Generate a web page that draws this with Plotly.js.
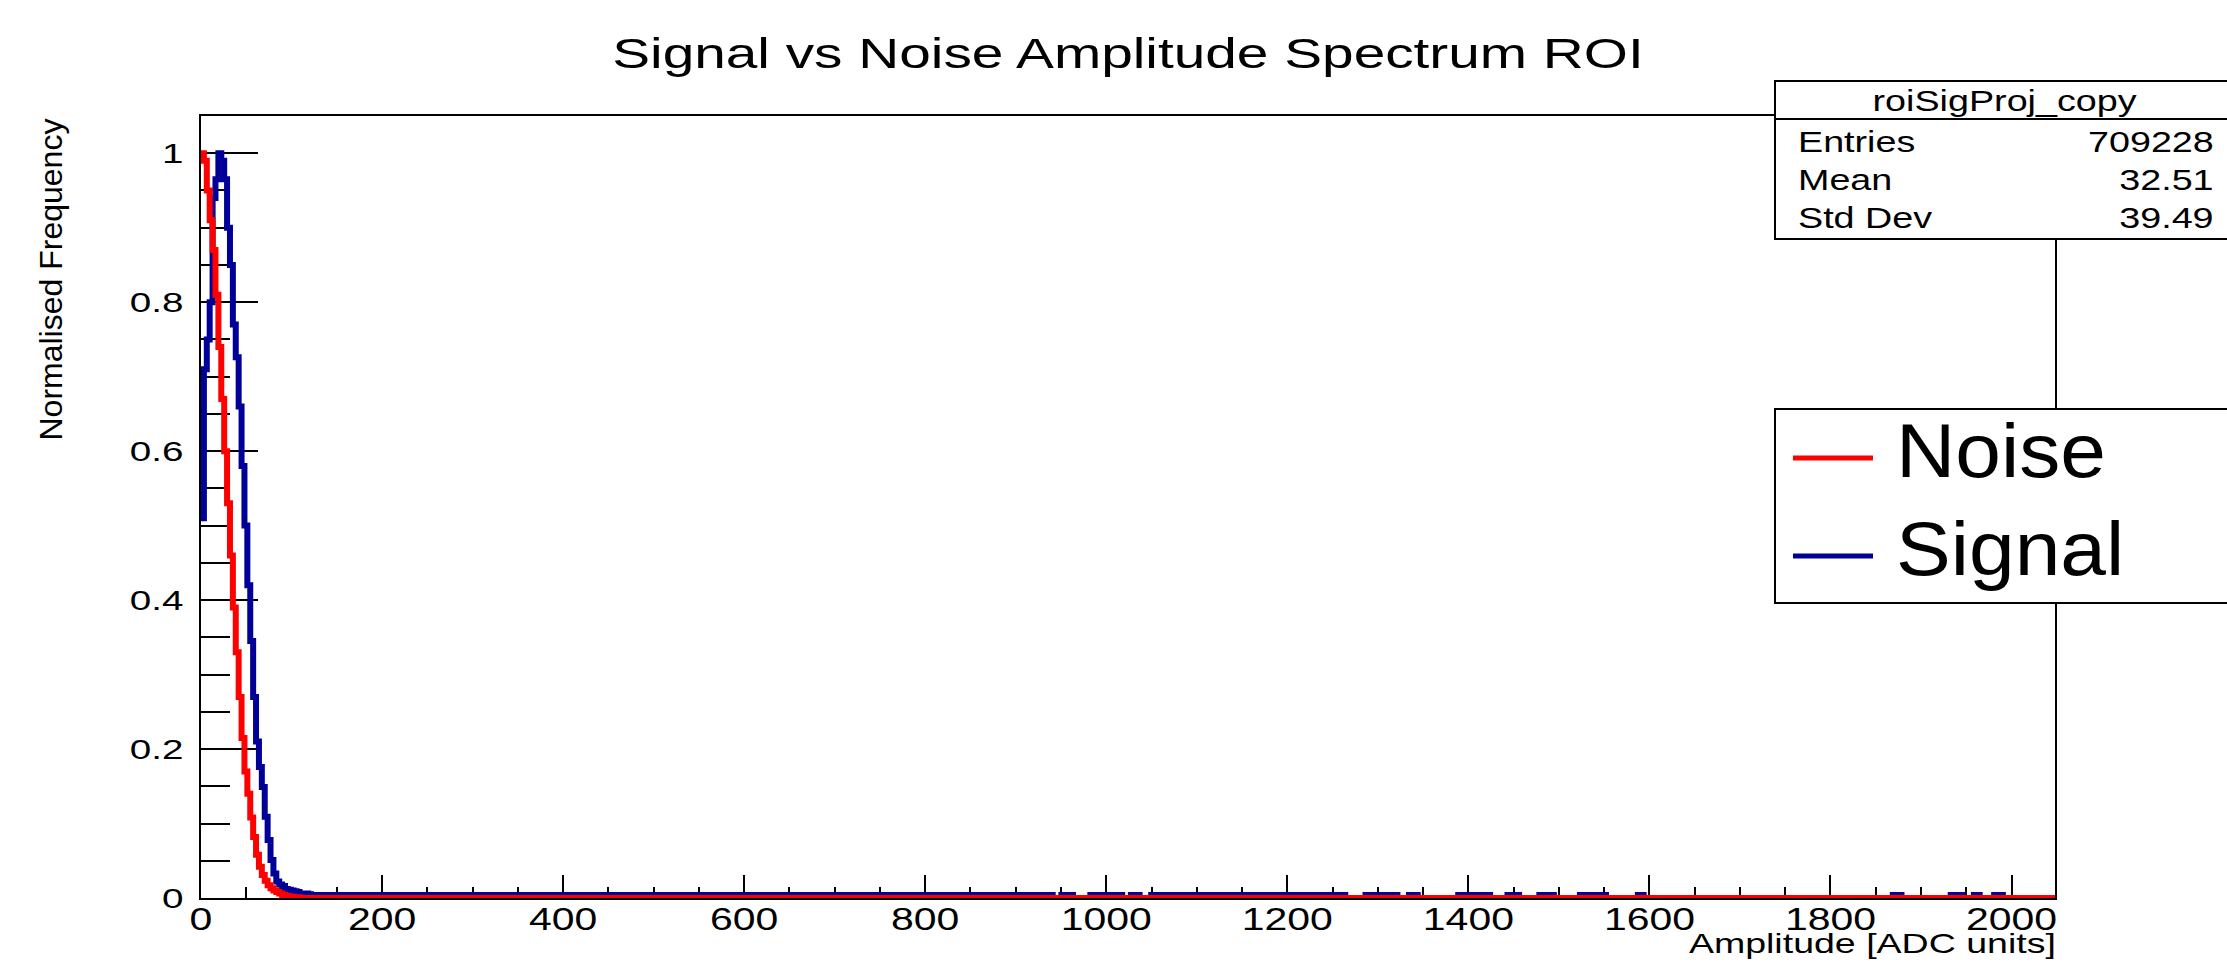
<!DOCTYPE html>
<html>
<head>
<meta charset="utf-8">
<script src="https://cdn.plot.ly/plotly-3.0.1.min.js"></script>
<style>
  html, body { margin: 0; padding: 0; background: #fff; }
  #chart { width: 2227px; height: 964px; }
</style>
</head>
<body>
<div id="chart"></div>
<script>
// ---- Histogram definition: 640 bins over 0–2048 ADC ----
const binWidth = 3.2;
const xMax = 2048;

const seriesNames = ['Noise', 'Signal'];
const seriesColors = ['#ff0000', '#000099'];

// Normalised bin contents, starting at the first bin
const noiseHead = [1.0, 0.99, 0.95, 0.91, 0.87, 0.81, 0.74, 0.67, 0.60, 0.53,
  0.46, 0.39, 0.33, 0.27, 0.215, 0.17, 0.14, 0.108, 0.082, 0.058,
  0.042, 0.031, 0.023, 0.017, 0.013, 0.010, 0.008, 0.006, 0.004, 0.003,
  0.002, 0.0015, 0.001, 0.001, 0.0005];

const signalHead = [0.51, 0.71, 0.75, 0.80, 0.94, 0.965, 1.0, 0.99, 0.965, 0.90,
  0.85, 0.77, 0.726, 0.66, 0.58, 0.50, 0.42, 0.345, 0.27, 0.21,
  0.176, 0.149, 0.109, 0.078, 0.051, 0.033, 0.022, 0.018, 0.016, 0.012,
  0.011, 0.010, 0.009, 0.008, 0.006, 0.006, 0.006, 0.005];

// Sparse high-amplitude tail of the signal: occupied ADC ranges and their level
const signalTailFrom = [120, 952, 984, 994, 1026, 1050, 1101, 1137, 1201, 1288, 1336,
  1390, 1408, 1444, 1480, 1523, 1587, 1870, 1933, 1957, 1981];
const signalTailTo = [941, 962, 991, 1018, 1038, 1093, 1129, 1193, 1265, 1320, 1344,
  1400, 1424, 1456, 1495, 1551, 1595, 1878, 1945, 1965, 1989];
const signalTailLevel = 0.004;

// Statistics box
const statsTitle = 'roiSigProj_copy';
const statsLabels = ['Entries', 'Mean', 'Std Dev'];
const statsValues = ['709228', '32.51', '39.49'];

// ---- Build full bin arrays ----
const nBins = Math.round(xMax / binWidth);

function fullBins(head, tailFrom, tailTo, tailLevel) {
  const out = [];
  for (let i = 0; i < nBins; i++) {
    if (i < head.length) { out.push(head[i]); continue; }
    let v = 0;
    if (tailFrom) {
      const c = (i + 0.5) * binWidth;
      for (let k = 0; k < tailFrom.length; k++) {
        if (c >= tailFrom[k] && c <= tailTo[k]) { v = tailLevel; break; }
      }
    }
    out.push(v);
  }
  return out;
}

const noiseBins = fullBins(noiseHead);
const signalBins = fullBins(signalHead, signalTailFrom, signalTailTo, signalTailLevel);

function histTrace(values, name, color) {
  const x = [], y = [];
  for (let i = 0; i < values.length; i++) { x.push(i * binWidth); y.push(values[i]); }
  x.push(xMax); y.push(values[values.length - 1]);
  return {
    type: 'scatter', mode: 'lines', name: name, x: x, y: y,
    line: { shape: 'hv', color: color, width: 6 },
    hoverinfo: 'x+y+name', showlegend: false
  };
}

// Signal is drawn first so the noise histogram sits on top of it
const traces = [
  histTrace(signalBins, seriesNames[1], seriesColors[1]),
  histTrace(noiseBins, seriesNames[0], seriesColors[0])
];

// ---- Frame geometry (pixels) ----
const FW = 2227, FH = 964;
const L = 201, R = 2055, T = 116, B = 898;
const W = R - L, H = B - T;
const px = v => (v - L) / W;
const py = v => (B - v) / H;

const FONT = 'Liberation Sans, Arial, Helvetica, sans-serif';

const shapes = [];
const annotations = [];
const annStretch = [];

function addText(opts, stretch) {
  annotations.push(Object.assign({
    xref: 'paper', yref: 'paper', showarrow: false,
    font: { family: FONT, color: '#000', size: 28 }, borderpad: 0
  }, opts));
  annStretch.push(stretch || 1);
}

// Statistics box
shapes.push({ type: 'rect', xref: 'paper', yref: 'paper', layer: 'above',
  x0: px(1775), x1: px(2240), y0: py(81), y1: py(239),
  fillcolor: '#fff', line: { color: '#000', width: 2 } });
shapes.push({ type: 'line', xref: 'paper', yref: 'paper', layer: 'above',
  x0: px(1775), x1: px(2240), y0: py(119), y1: py(119),
  line: { color: '#000', width: 2 } });
addText({ text: statsTitle, x: px(2005), y: py(101), xanchor: 'center', yanchor: 'middle',
  font: { family: FONT, color: '#000', size: 29 } }, 1.3);
const rowY = [142, 180, 218];
statsLabels.forEach((lab, i) => {
  addText({ text: lab, x: px(1797), y: py(rowY[i]), xanchor: 'left', align: 'left', yanchor: 'middle',
    font: { family: FONT, color: '#000', size: 29 } }, 1.3);
  addText({ text: statsValues[i], x: px(2215), y: py(rowY[i]), xanchor: 'right', align: 'right', yanchor: 'middle',
    font: { family: FONT, color: '#000', size: 29 } }, 1.3);
});

// Legend box
shapes.push({ type: 'rect', xref: 'paper', yref: 'paper', layer: 'above',
  x0: px(1775), x1: px(2240), y0: py(409), y1: py(603),
  fillcolor: '#fff', line: { color: '#000', width: 2 } });
const legendRowY = [458, 556];
const legendTextY = [450.5, 548];
seriesNames.forEach((nm, i) => {
  shapes.push({ type: 'line', xref: 'paper', yref: 'paper', layer: 'above',
    x0: px(1793), x1: px(1873), y0: py(legendRowY[i]), y1: py(legendRowY[i]),
    line: { color: seriesColors[i], width: 5 } });
  addText({ text: nm, x: px(1895), y: py(legendTextY[i]), xanchor: 'left', align: 'left', yanchor: 'middle',
    font: { family: FONT, color: '#000', size: 76 } }, 1.08);
});

// Axis titles
addText({ text: 'Normalised Frequency', x: px(50), y: py(279.5), xanchor: 'center', yanchor: 'middle',
  textangle: -90, font: { family: FONT, color: '#000', size: 32 } }, 1.0);
addText({ text: 'Amplitude [ADC units]', x: px(2057), y: py(943), xanchor: 'right', align: 'right', yanchor: 'middle',
  font: { family: FONT, color: '#000', size: 28 } }, 1.34);

const layout = {
  width: FW, height: FH,
  margin: { l: L, r: FW - R, t: T, b: FH - B, pad: 0 },
  paper_bgcolor: '#fff', plot_bgcolor: '#fff',
  font: { family: FONT, color: '#000' },
  showlegend: false,
  title: {
    text: 'Signal vs Noise Amplitude Spectrum ROI',
    font: { family: FONT, size: 43, color: '#000' },
    xref: 'paper', x: 0.5, xanchor: 'center',
    yref: 'container', y: 1 - 53 / FH, yanchor: 'middle'
  },
  xaxis: {
    range: [0, xMax], tick0: 0, dtick: 200,
    ticks: 'inside', ticklen: 23, tickwidth: 2, tickcolor: '#000',
    showline: true, linewidth: 2, linecolor: '#000', mirror: true, layer: 'below traces',
    showgrid: false, zeroline: false, ticklabelstandoff: -8,
    tickfont: { family: FONT, size: 32, color: '#000' },
    minor: { dtick: 50, tick0: 0, ticks: 'inside', ticklen: 11.5, tickwidth: 2, tickcolor: '#000', showgrid: false }
  },
  yaxis: {
    range: [0, 1.05], tick0: 0, dtick: 0.2,
    ticks: 'inside', ticklen: 57, tickwidth: 2, tickcolor: '#000',
    showline: true, linewidth: 2, linecolor: '#000', mirror: true, layer: 'below traces',
    showgrid: false, zeroline: false, ticklabelstandoff: 10,
    tickfont: { family: FONT, size: 28, color: '#000' },
    minor: { dtick: 0.05, tick0: 0, ticks: 'inside', ticklen: 29, tickwidth: 2, tickcolor: '#000', showgrid: false }
  },
  shapes: shapes,
  annotations: annotations
};

// Widen glyphs horizontally to the wide Helvetica rendering of the canvas
function widen(el, k) {
  if (!el || k === 1) return;
  const w = el.getComputedTextLength();
  if (!w) return;
  el.setAttribute('textLength', (w * k).toFixed(1));
  el.setAttribute('lengthAdjust', 'spacingAndGlyphs');
}

Plotly.newPlot('chart', traces, layout, { displayModeBar: false, staticPlot: true }).then(gd => {
  // let the histogram lines keep their full thickness along the frame edges
  gd.querySelectorAll('.cartesianlayer .plot').forEach(p => p.removeAttribute('clip-path'));
  widen(gd.querySelector('.gtitle'), 1.32);
  gd.querySelectorAll('.xtick text').forEach(t => widen(t, 1.28));
  gd.querySelectorAll('.ytick text').forEach(t => widen(t, 1.38));
  gd.querySelectorAll('.annotation').forEach(a => {
    const idx = +a.getAttribute('data-index');
    widen(a.querySelector('text'), annStretch[idx]);
  });
});
</script>
</body>
</html>
